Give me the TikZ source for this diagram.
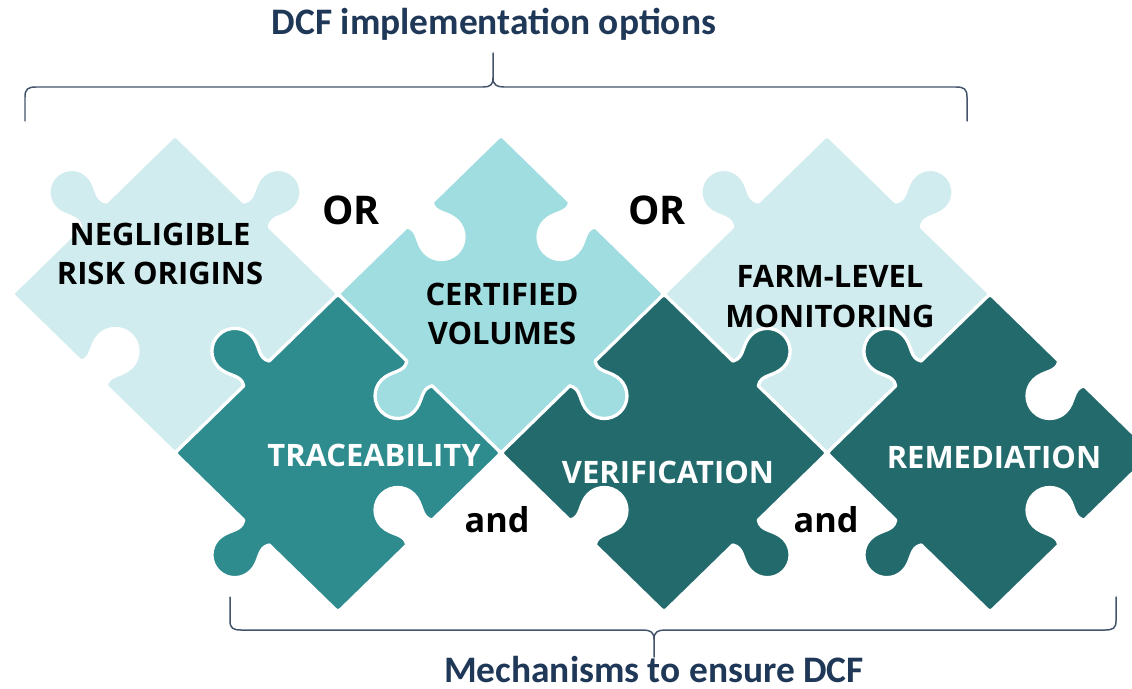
\documentclass[tikz,border=0pt]{standalone}
\usepackage{fontspec}
\newfontfamily\labfont{Open Sans}
\newfontfamily\capfont{Carlito}
\definecolor{pLight}{RGB}{208,236,238}
\definecolor{pMid}{RGB}{160,221,224}
\definecolor{pTeal}{RGB}{46,139,142}
\definecolor{pDark}{RGB}{35,106,108}
\definecolor{navy}{RGB}{31,56,88}
\definecolor{braceC}{RGB}{68,84,106}

% point on edge P->Q at fraction s, offset t (edge lengths) times k along outward normal
\newcommand\EP[7]{({(#1)+(#5)*((#3)-(#1))+(#6)*(#7)*((#4)-(#2))},{(#2)+(#5)*((#4)-(#2))-(#6)*(#7)*((#3)-(#1))})}
\newcommand\knobedge[5]{%
 -- \EP{#1}{#2}{#3}{#4}{0.422}{0}{#5}
 .. controls \EP{#1}{#2}{#3}{#4}{0.452}{0.045}{#5} and \EP{#1}{#2}{#3}{#4}{0.400}{0.077}{#5} .. \EP{#1}{#2}{#3}{#4}{0.400}{0.137}{#5}
 .. controls \EP{#1}{#2}{#3}{#4}{0.400}{0.192}{#5} and \EP{#1}{#2}{#3}{#4}{0.445}{0.237}{#5} .. \EP{#1}{#2}{#3}{#4}{0.500}{0.237}{#5}
 .. controls \EP{#1}{#2}{#3}{#4}{0.555}{0.237}{#5} and \EP{#1}{#2}{#3}{#4}{0.600}{0.192}{#5} .. \EP{#1}{#2}{#3}{#4}{0.600}{0.137}{#5}
 .. controls \EP{#1}{#2}{#3}{#4}{0.600}{0.077}{#5} and \EP{#1}{#2}{#3}{#4}{0.548}{0.045}{#5} .. \EP{#1}{#2}{#3}{#4}{0.578}{0}{#5}
 -- \EP{#1}{#2}{#3}{#4}{0.97}{0}{#5}
}
% \puzzlepiece{cx}{cy}{colour}{kNE}{kSE}{kSW}{kNW}
\newcommand\puzzlepiece[7]{%
 \pgfmathsetmacro\Tx{#1}\pgfmathsetmacro\Ty{#2-159}%
 \pgfmathsetmacro\Rx{#1+163}\pgfmathsetmacro\Ry{#2}%
 \pgfmathsetmacro\Bx{#1}\pgfmathsetmacro\By{#2+159}%
 \pgfmathsetmacro\Lx{#1-163}\pgfmathsetmacro\Ly{#2}%
 \path[piecestyle, fill=#3] \EP{\Tx}{\Ty}{\Rx}{\Ry}{0.03}{0}{0}
  \knobedge{\Tx}{\Ty}{\Rx}{\Ry}{#4} .. controls (\Rx,\Ry) .. \EP{\Rx}{\Ry}{\Bx}{\By}{0.03}{0}{0}
  \knobedge{\Rx}{\Ry}{\Bx}{\By}{#5} .. controls (\Bx,\By) .. \EP{\Bx}{\By}{\Lx}{\Ly}{0.03}{0}{0}
  \knobedge{\Bx}{\By}{\Lx}{\Ly}{#6} .. controls (\Lx,\Ly) .. \EP{\Lx}{\Ly}{\Tx}{\Ty}{0.03}{0}{0}
  \knobedge{\Lx}{\Ly}{\Tx}{\Ty}{#7} .. controls (\Tx,\Ty) .. \EP{\Tx}{\Ty}{\Rx}{\Ry}{0.03}{0}{0} -- cycle;
}

\begin{document}
\begin{tikzpicture}[x=0.02cm, y=-0.02cm,
  piecestyle/.style={draw=white, line width=1.8pt, line join=round},
  darklabel/.style={font=\labfont\bfseries\fontsize{17.6}{22.7}\selectfont, text=black, align=center, inner sep=0pt},
  lightlabel/.style={font=\labfont\bfseries\fontsize{17.6}{22.7}\selectfont, text=white, align=center, inner sep=0pt},
  orlabel/.style={font=\labfont\bfseries\fontsize{22.5}{26}\selectfont, text=black, inner sep=0pt},
  andlabel/.style={font=\labfont\bfseries\fontsize{19.5}{24}\selectfont, text=black, inner sep=0pt},
  headlabel/.style={font=\capfont\bfseries\fontsize{21.3}{25}\selectfont, text=navy, inner sep=0pt},
  bracestyle/.style={draw=braceC, line width=0.85pt, line cap=round, line join=round}]
\useasboundingbox (0,0) rectangle (1132,689);
\clip (0,0) rectangle (1132,689);

% top row (implementation options)
\puzzlepiece{175}{294}{pLight}{1}{-1}{-1}{1}
\puzzlepiece{501}{294}{pMid}{-1}{1}{1}{-1}
\puzzlepiece{827}{294}{pLight}{1}{-1}{-1}{1}
% bottom row (mechanisms)
\puzzlepiece{338}{453}{pTeal}{-1}{-1}{1}{1}
\puzzlepiece{664}{453}{pDark}{1}{1}{-1}{-1}
\puzzlepiece{990}{453}{pDark}{-1}{-1}{1}{1}

% labels
\node[darklabel] (neg) at (160,254) {NEGLIGIBLE\\RISK ORIGINS};
\node[darklabel] (cert) at (502,314) {CERTIFIED\\VOLUMES};
\node[darklabel] (farm) at (830,297) {FARM-LEVEL\\MONITORING};
\node[lightlabel] (trace) at (374,455) {TRACEABILITY};
\node[lightlabel] (verif) at (668,472) {VERIFICATION};
\node[lightlabel] (remed) at (994,457) {REMEDIATION};
\node[orlabel] (or1) at (351,210) {OR};
\node[orlabel] (or2) at (657,210) {OR};
\node[andlabel] (and1) at (497,520) {and};
\node[andlabel] (and2) at (826,520) {and};

% top brace and title
\node[headlabel, anchor=base] (title) at (494,35) {DCF implementation options};
\draw[bracestyle] (25,121) -- (25,97) .. controls (25,89) and (28,87) .. (36,87) -- (483,87)
  .. controls (490,87) and (493,85) .. (493,78) -- (493,53);
\draw[bracestyle] (493,78) .. controls (493,85) and (497,87) .. (504,87) -- (956,87)
  .. controls (964,87) and (967,89) .. (967,97) -- (967,121);

% bottom brace and caption
\node[headlabel, anchor=base] (mech) at (654,682) {Mechanisms to ensure DCF};
\draw[bracestyle] (230,597) -- (230,621) .. controls (230,628) and (233,630) .. (241,630) -- (643,630)
  .. controls (650,630) and (654,632) .. (654,639) -- (654,657);
\draw[bracestyle] (654,639) .. controls (654,632) and (658,630) .. (665,630) -- (1105,630)
  .. controls (1113,630) and (1116,628) .. (1116,621) -- (1116,597);
\end{tikzpicture}
\end{document}
